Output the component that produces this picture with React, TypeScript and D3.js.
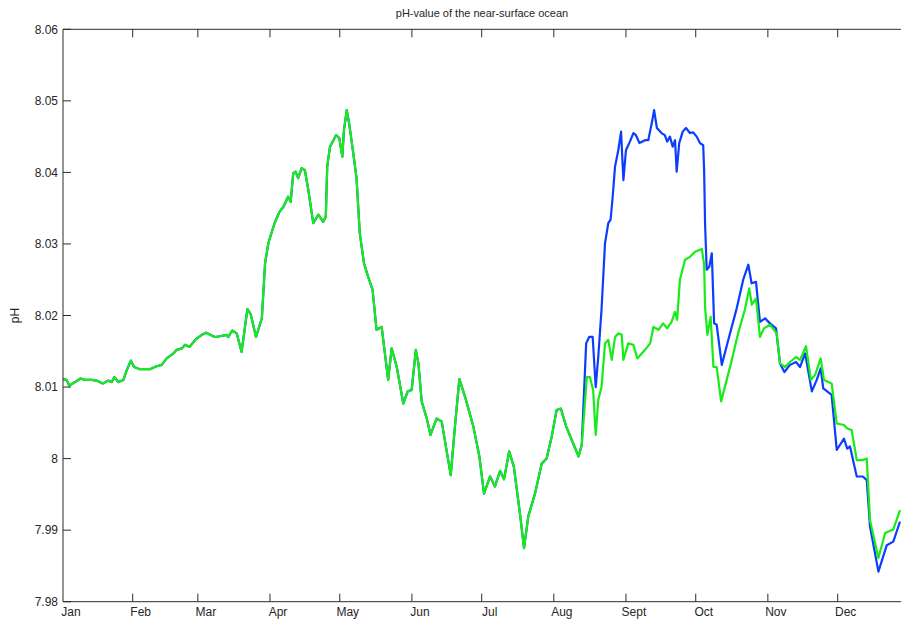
import React from "react";
import * as d3 from "d3";

const title = "pH-value of the near-surface ocean";
const yLabel = "pH";
const monthLabels = ["Jan", "Feb", "Mar", "Apr", "May", "Jun", "Jul", "Aug", "Sept", "Oct", "Nov", "Dec"];
const monthStartDays = [0, 31, 59, 90, 120, 151, 181, 212, 243, 273, 304, 334];
const yTicks = [7.98, 7.99, 8.0, 8.01, 8.02, 8.03, 8.04, 8.05, 8.06];

// shared part (both runs identical until mid-August)
const commonDays = [1.1, 2.6, 3.7, 6.2, 8.6, 10.5, 13.4, 15.5, 18.1, 20.5, 22.0, 23.1, 24.8, 27.0, 28.5, 30.2, 31.6, 34.1, 38.4, 41.3, 43.5, 45.6, 48.5, 49.9, 52.1, 53.5, 55.4, 58.2, 60.7, 62.6, 64.3, 66.3, 68.5, 71.4, 72.1, 73.8, 75.7, 77.8, 80.3, 81.7, 84.0, 86.5, 87.9, 89.3, 90.8, 92.2, 94.1, 95.8, 97.8, 98.9, 100.0, 101.0, 102.1, 103.6, 105.0, 106.5, 108.6, 110.8, 112.9, 114.0, 114.6, 115.8, 118.4, 119.8, 121.1, 121.8, 123.0, 124.0, 125.8, 127.2, 128.6, 130.4, 132.2, 134.1, 135.8, 138.0, 139.4, 140.8, 142.3, 144.5, 147.3, 149.2, 150.9, 152.7, 153.8, 155.2, 157.4, 159.0, 161.6, 163.8, 165.6, 167.7, 169.5, 171.4, 173.8, 177.4, 180.0, 182.0, 184.6, 186.7, 188.9, 190.6, 192.8, 194.8, 197.4, 199.2, 201.0, 203.9, 206.8, 208.9, 211.1, 213.2, 215.0, 217.3, 219.7, 222.6];
const commonPH = [8.0111, 8.011, 8.0102, 8.0107, 8.0112, 8.011, 8.011, 8.0109, 8.0105, 8.0109, 8.0107, 8.0114, 8.0107, 8.011, 8.0124, 8.0137, 8.0128, 8.0125, 8.0125, 8.0129, 8.0131, 8.014, 8.0147, 8.0152, 8.0154, 8.0159, 8.0156, 8.0167, 8.0173, 8.0176, 8.0173, 8.017, 8.0171, 8.0173, 8.017, 8.0179, 8.0175, 8.0149, 8.0209, 8.0202, 8.017, 8.0196, 8.0273, 8.0301, 8.0317, 8.0331, 8.0345, 8.0352, 8.0366, 8.0359, 8.0399, 8.0401, 8.0392, 8.0406, 8.0403, 8.0375, 8.0329, 8.0341, 8.0331, 8.0338, 8.0408, 8.0436, 8.0452, 8.0448, 8.0422, 8.0459, 8.0487, 8.0469, 8.0427, 8.0392, 8.0315, 8.0273, 8.0254, 8.0236, 8.018, 8.0184, 8.0147, 8.011, 8.0154, 8.0128, 8.0077, 8.0094, 8.0096, 8.0152, 8.0133, 8.008, 8.0056, 8.0033, 8.0056, 8.0052, 8.0017, 7.9977, 8.0045, 8.0111, 8.0087, 8.0045, 8.0003, 7.9951, 7.9975, 7.9961, 7.9983, 7.9971, 8.001, 7.9989, 7.9924, 7.9875, 7.9919, 7.9951, 7.9993, 8.0, 8.0031, 8.0068, 8.007, 8.0045, 8.0026, 8.0003];

// green run after divergence
const greenTailDays = [224.0, 226.2, 227.5, 228.9, 230.0, 231.1, 232.5, 234.0, 235.4, 236.9, 238.3, 239.7, 241.2, 241.9, 244.0, 246.2, 247.9, 251.2, 253.4, 254.8, 257.0, 259.0, 260.7, 262.6, 264.1, 265.0, 266.2, 268.4, 270.5, 272.7, 275.6, 276.6, 277.0, 278.0, 279.4, 280.6, 282.0, 283.9, 286.3, 288.5, 291.2, 294.1, 296.0, 297.1, 298.9, 300.6, 302.3, 304.9, 307.8, 309.2, 311.4, 313.5, 316.1, 317.8, 320.4, 322.5, 324.3, 326.7, 328.1, 331.4, 333.6, 336.7, 338.1, 340.0, 342.2, 344.8, 346.5, 347.9, 351.5, 354.4, 357.9, 360.8];
const greenTailPH = [8.0019, 8.0114, 8.0114, 8.0096, 8.0033, 8.0082, 8.01, 8.0161, 8.0166, 8.0138, 8.017, 8.0175, 8.0173, 8.0138, 8.0161, 8.0159, 8.014, 8.0152, 8.0161, 8.0184, 8.018, 8.0189, 8.0182, 8.0191, 8.0205, 8.0194, 8.025, 8.0278, 8.0282, 8.0289, 8.0293, 8.0271, 8.0212, 8.0173, 8.0198, 8.0128, 8.0128, 8.008, 8.011, 8.0138, 8.0175, 8.0208, 8.0238, 8.0215, 8.0224, 8.017, 8.0182, 8.0187, 8.0175, 8.0133, 8.0128, 8.0135, 8.0142, 8.0138, 8.0157, 8.011, 8.0117, 8.014, 8.011, 8.0105, 8.0049, 8.0047, 8.0042, 8.004, 7.9998, 7.9998, 8.0, 7.9914, 7.9861, 7.9896, 7.9901, 7.9928];

// blue run after divergence
const blueTailDays = [224.0, 225.9, 227.2, 228.7, 230.0, 231.1, 232.5, 234.0, 235.4, 236.4, 237.3, 238.3, 239.7, 240.9, 241.9, 243.0, 244.7, 246.2, 247.3, 248.8, 251.2, 252.6, 254.1, 255.1, 256.3, 258.3, 259.7, 260.7, 261.9, 263.1, 264.1, 264.8, 265.9, 267.4, 268.8, 270.5, 271.9, 273.4, 274.8, 276.2, 276.6, 277.0, 277.7, 278.8, 279.9, 280.9, 282.0, 284.2, 287.0, 290.6, 293.4, 295.6, 297.0, 298.9, 300.6, 302.8, 304.9, 307.5, 309.2, 311.1, 313.5, 316.1, 317.8, 320.0, 322.9, 325.0, 326.7, 327.8, 331.4, 333.6, 336.7, 338.1, 339.3, 342.2, 344.8, 346.5, 347.9, 351.5, 355.1, 357.9, 360.8];
const blueTailPH = [8.0019, 8.0161, 8.017, 8.017, 8.01, 8.0142, 8.0208, 8.0301, 8.0329, 8.0334, 8.0366, 8.0408, 8.0431, 8.0457, 8.0389, 8.0431, 8.0443, 8.0455, 8.0452, 8.0441, 8.0445, 8.0445, 8.0469, 8.0487, 8.0462, 8.0455, 8.0452, 8.0443, 8.045, 8.0436, 8.0445, 8.0401, 8.0441, 8.0457, 8.0462, 8.0455, 8.0456, 8.045, 8.0441, 8.0438, 8.0403, 8.0329, 8.0264, 8.0268, 8.0287, 8.0189, 8.0187, 8.0131, 8.0166, 8.021, 8.025, 8.0271, 8.0245, 8.0247, 8.0191, 8.0196, 8.0189, 8.0182, 8.0133, 8.0121, 8.0131, 8.0135, 8.0128, 8.0147, 8.0094, 8.011, 8.0126, 8.0098, 8.0089, 8.0012, 8.0028, 8.0014, 8.0017, 7.9975, 7.9975, 7.997, 7.9905, 7.9842, 7.9879, 7.9884, 7.9912];

const W = 901;
const H = 625;
const plotLeft = 63;
const plotTop = 29.3;
const plotBottom = 601.7;
const xDomain = [1, 365];
const xRange = [62.9, 909.8];

const axisColor = "#2b2b2b";
const textColor = "#262626";
const blueColor = "#0c3cff";
const greenColor = "#17ec17";
const font = "'Liberation Sans', Arial, sans-serif";

type P = [number, number];

export default function App() {
  const x = d3.scaleLinear().domain(xDomain).range(xRange);
  const y = d3.scaleLinear().domain([7.98, 8.06]).range([plotBottom, plotTop]);

  const common: P[] = commonDays.map((d, i) => [d, commonPH[i]]);
  const green: P[] = common.concat(greenTailDays.map((d, i) => [d, greenTailPH[i]] as P));
  const blue: P[] = common.concat(blueTailDays.map((d, i) => [d, blueTailPH[i]] as P));

  const line = d3
    .line<P>()
    .x((p) => x(p[0]))
    .y((p) => y(p[1]))
    .curve(d3.curveLinear);

  const fmt = (v: number) => {
    const s = v.toFixed(2);
    return s === "8.00" ? "8" : s;
  };

  const right = xRange[1];

  return (
    <div style={{ position: "absolute", left: 0, top: 0, width: W, height: H, overflow: "hidden", background: "#fff" }}>
      <svg width={W} height={H} style={{ display: "block" }} fontFamily={font}>
        <rect x={0} y={0} width={W} height={H} fill="#fff" />
        <defs>
          <clipPath id="plotClip">
            <rect x={plotLeft} y={plotTop} width={right - plotLeft} height={plotBottom - plotTop} />
          </clipPath>
        </defs>

        <g clipPath="url(#plotClip)">
          <path d={line(blue) || ""} fill="none" stroke={blueColor} strokeWidth={2.2} strokeLinejoin="round" />
          <path d={line(green) || ""} fill="none" stroke={greenColor} strokeWidth={2.2} strokeLinejoin="round" />
        </g>

        {/* axes box */}
        <line x1={plotLeft} y1={plotTop} x2={right} y2={plotTop} stroke={axisColor} strokeWidth={1} />
        <line x1={plotLeft} y1={plotBottom} x2={right} y2={plotBottom} stroke={axisColor} strokeWidth={1} />
        <line x1={plotLeft} y1={plotTop} x2={plotLeft} y2={plotBottom} stroke={axisColor} strokeWidth={1} />

        {/* y ticks */}
        {yTicks.map((t) => (
          <g key={"y" + t}>
            <line x1={plotLeft} x2={plotLeft + 8} y1={y(t)} y2={y(t)} stroke={axisColor} strokeWidth={1} />
            <text x={plotLeft - 5} y={y(t)} dy="0.35em" textAnchor="end" fontSize={12} fill={textColor}>
              {fmt(t)}
            </text>
          </g>
        ))}

        {/* x ticks */}
        {monthStartDays.map((d, i) => {
          const px = x(Math.max(d, xDomain[0]));
          return (
            <g key={"x" + d}>
              {d >= xDomain[0] && (
                <>
                  <line x1={px} x2={px} y1={plotBottom} y2={plotBottom - 8} stroke={axisColor} strokeWidth={1} />
                  <line x1={px} x2={px} y1={plotTop} y2={plotTop + 8} stroke={axisColor} strokeWidth={1} />
                </>
              )}
              <text x={px + 8} y={616} textAnchor="middle" fontSize={12} fill={textColor}>
                {monthLabels[i]}
              </text>
            </g>
          );
        })}

        <text x={482} y={17} textAnchor="middle" fontSize={11} fill={textColor}>
          {title}
        </text>
        <text
          transform={`translate(19, ${(plotTop + plotBottom) / 2}) rotate(-90)`}
          textAnchor="middle"
          fontSize={12}
          fill={textColor}
        >
          {yLabel}
        </text>
      </svg>
    </div>
  );
}
